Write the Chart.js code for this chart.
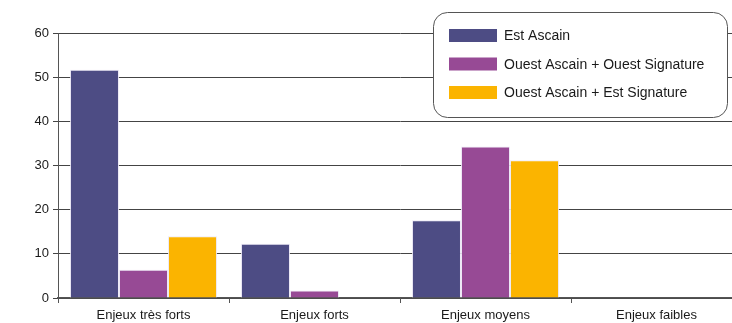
<!DOCTYPE html>
<html>
<head>
<meta charset="utf-8">
<script src="https://cdn.jsdelivr.net/npm/chart.js@4/dist/chart.umd.min.js"></script>
<style>
  html, body { margin: 0; padding: 0; background: #fff; overflow: hidden; }
  #wrap { position: relative; width: 742px; height: 323px; }
</style>
</head>
<body>
<div id="wrap"><canvas id="c"></canvas></div>
<script>
// Categories and series
const categories = ["Enjeux très forts", "Enjeux forts", "Enjeux moyens", "Enjeux faibles"];
const seriesNames = ["Est Ascain", "Ouest Ascain + Ouest Signature", "Ouest Ascain + Est Signature"];
const estAscain = [51.7, 12.3, 17.6, 0];
const ouestAscainOuestSignature = [6.4, 1.7, 34.3, 0];
const ouestAscainEstSignature = [14.0, 0, 31.2, 0];
const yTicks = [0, 10, 20, 30, 40, 50, 60];

const colors = ["#4d4c84", "#974a95", "#fbb400"];
const FONT = "'Liberation Sans', Arial, sans-serif";

// Rounded legend box drawn on top of the plot
const boxLegend = {
  id: "boxLegend",
  afterDraw(chart) {
    const ctx = chart.ctx;
    const x = 433.5, y = 12.5, w = 294, h = 105, r = 14;
    ctx.save();
    ctx.beginPath();
    ctx.roundRect(x, y, w, h, r);
    ctx.fillStyle = "#fff";
    ctx.fill();
    ctx.strokeStyle = "#555";
    ctx.lineWidth = 1;
    ctx.stroke();
    ctx.font = "14px " + FONT;
    ctx.textBaseline = "middle";
    chart.data.datasets.forEach((ds, i) => {
      const cy = 35.5 + i * 28.5;
      ctx.fillStyle = ds.backgroundColor;
      ctx.fillRect(449, cy - 6.5, 48, 13);
      ctx.fillStyle = "#1a1a1a";
      ctx.fillText(ds.label, 504, cy + 1);
    });
    ctx.restore();
  }
};

new Chart(document.getElementById("c"), {
  type: "bar",
  data: {
    labels: categories,
    datasets: [estAscain, ouestAscainOuestSignature, ouestAscainEstSignature].map((d, i) => ({
      label: seriesNames[i],
      data: d,
      backgroundColor: colors[i],
      borderColor: "rgba(235,232,245,0.9)",
      borderWidth: 1,
      categoryPercentage: 0.86,
      barPercentage: 1
    }))
  },
  options: {
    responsive: true,
    maintainAspectRatio: false,
    animation: false,
    layout: { padding: { top: 33, right: 0, left: 0, bottom: 0 } },
    plugins: { legend: { display: false }, tooltip: { enabled: false } },
    scales: {
      x: {
        grid: {
          offset: true,
          drawOnChartArea: false,
          drawTicks: true,
          tickLength: 5,
          color: "#555",
          lineWidth: 1
        },
        border: { display: true, color: "#555", width: 1.5 },
        ticks: {
          color: "#1a1a1a",
          font: { family: FONT, size: 13 },
          padding: 5,
          maxRotation: 0
        },
        afterFit(scale) { scale.height = 25; }
      },
      y: {
        min: 0,
        max: 60,
        afterBuildTicks(scale) { scale.ticks = yTicks.map(v => ({ value: v })); },
        grid: {
          color: "#444",
          lineWidth: 1,
          drawTicks: true,
          tickLength: 5
        },
        border: { display: true, color: "#555", width: 1 },
        ticks: {
          color: "#1a1a1a",
          font: { family: FONT, size: 13 },
          padding: 4
        },
        afterFit(scale) { scale.width = 58; }
      }
    }
  },
  plugins: [boxLegend]
});
</script>
</body>
</html>
